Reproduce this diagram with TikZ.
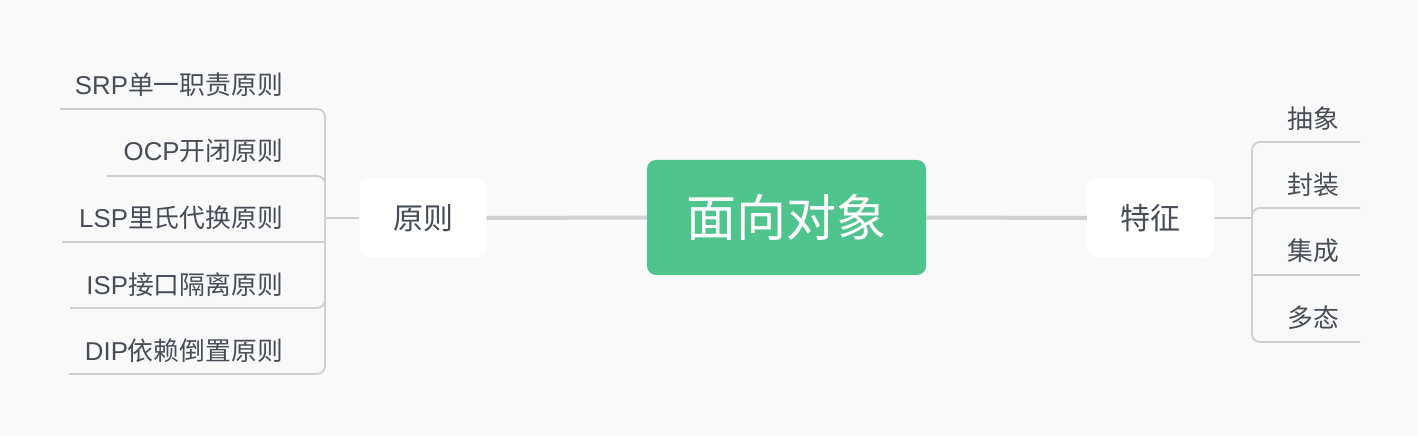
\documentclass[tikz,border=0pt]{standalone}
\usepackage{fontspec}
\setmainfont{Liberation Sans}
\newfontfamily\cjk{Noto Sans CJK SC}
\newfontfamily\lat{Liberation Sans}
\definecolor{bg}{HTML}{F9F9F9}
\definecolor{gr}{HTML}{50C48D}
\definecolor{ln}{HTML}{D0D0D0}
\definecolor{tx}{HTML}{474D57}
\begin{document}
\begin{tikzpicture}[x=1bp,y=-1bp,
  rootbox/.style={fill=gr,rounded corners=9bp,minimum width=279bp,minimum height=115bp,inner sep=0pt,text=white,font=\cjk\fontsize{50bp}{58bp}\selectfont},
  midbox/.style={fill=white,rounded corners=9bp,minimum width=127bp,minimum height=78bp,inner sep=0pt,text=tx,font=\cjk\fontsize{30bp}{36bp}\selectfont},
  leaf/.style={inner sep=0pt,text=tx,font=\fontsize{25.8bp}{30bp}\selectfont},
  thick line/.style={draw=ln,line width=4bp},
  thin line/.style={draw=ln,line width=1.8bp,rounded corners=8bp}]
\fill[bg] (0,0) rectangle (1418,436);
\useasboundingbox (0,0) rectangle (1418,436);
% main nodes
\node[rootbox] (root) at (786.5,217.5) {面向对象};
\node[midbox] (yz) at (423,218) {原则};
\node[midbox] (tz) at (1150.5,218) {特征};
\draw[thick line] (root.west) -- (yz.east);
\draw[thick line] (root.east) -- (tz.west);
% left leaves
\node[leaf,anchor=east] (srp) at (283,85) {\lat SRP\cjk 单一职责原则};
\node[leaf,anchor=east] (ocp) at (283,151) {\lat OCP\cjk 开闭原则};
\node[leaf,anchor=east] (lsp) at (283,218) {\lat LSP\cjk 里氏代换原则};
\node[leaf,anchor=east] (isp) at (283,285) {\lat ISP\cjk 接口隔离原则};
\node[leaf,anchor=east] (dip) at (283,351) {\lat DIP\cjk 依赖倒置原则};
\coordinate (jl) at (325,218);
\coordinate (srpL) at (60,109);
\coordinate (ocpL) at (107,176);
\coordinate (lspL) at (62,242);
\coordinate (lspR) at (325,242);
\coordinate (ispL) at (70,308);
\coordinate (dipL) at (69,374);
\draw[thin line,rounded corners=0pt] (yz.west) -- (jl);
\draw[thin line] (jl) |- (srpL);
\draw[thin line] (jl) |- (ocpL);
\draw[thin line,rounded corners=0pt] (lspR) -- (lspL);
\draw[thin line] (jl) |- (ispL);
\draw[thin line] (jl) |- (dipL);
% right leaves
\node[leaf] (cx) at (1313,119) {\cjk 抽象};
\node[leaf] (fz) at (1313,185) {\cjk 封装};
\node[leaf] (jc) at (1313,251) {\cjk 集成};
\node[leaf] (dt) at (1313,318) {\cjk 多态};
\coordinate (jr) at (1252,218);
\coordinate (cxR) at (1360,142);
\coordinate (fzR) at (1360,208);
\coordinate (jcL) at (1252,275);
\coordinate (jcR) at (1360,275);
\coordinate (dtR) at (1360,342);
\draw[thin line,rounded corners=0pt] (tz.east) -- (jr);
\draw[thin line] (jr) |- (cxR);
\draw[thin line] (jr) |- (fzR);
\draw[thin line,rounded corners=0pt] (jcL) -- (jcR);
\draw[thin line] (jr) |- (dtR);
\end{tikzpicture}
\end{document}
